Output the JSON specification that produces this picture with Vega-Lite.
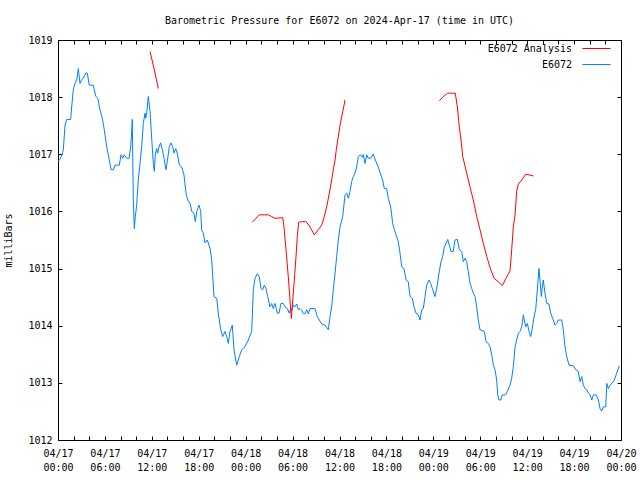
{
  "$schema": "https://vega.github.io/schema/vega-lite/v6.json",
  "autosize": "none",
  "width": 563,
  "height": 400,
  "padding": {"left": 58, "top": 40, "right": 19, "bottom": 40},
  "background": "white",
  "title": {"text": "Barometric Pressure for E6072 on 2024-Apr-17 (time in UTC)", "font": "DejaVu Sans Mono", "fontSize": 10, "fontWeight": "normal", "color": "black", "anchor": "middle", "offset": 9},
  "config": {
    "view": {"stroke": "black", "strokeWidth": 1},
    "axis": {"labelFont": "DejaVu Sans Mono", "labelFontSize": 10, "labelColor": "black", "titleFont": "DejaVu Sans Mono", "titleFontSize": 10, "titleFontWeight": "normal", "titleColor": "black", "grid": false, "domain": false, "tickColor": "black", "tickSize": 4, "tickWidth": 1, "offset": -4},
    "legend": {"labelFont": "DejaVu Sans Mono", "labelFontSize": 10, "labelColor": "black"}
  },
  "datasets": {
    "obs": [
      {"h":0.0,"p":1016.88},{"h":0.26,"p":1016.91},{"h":0.51,"p":1016.99},{"h":0.68,"p":1017.08},{"h":0.90,"p":1017.51},{"h":1.11,"p":1017.61},{"h":1.62,"p":1017.61},{"h":1.75,"p":1017.83},{"h":1.96,"p":1018.13},{"h":2.17,"p":1018.24},{"h":2.39,"p":1018.30},{"h":2.60,"p":1018.50},{"h":2.81,"p":1018.24},{"h":3.03,"p":1018.31},{"h":3.24,"p":1018.33},{"h":3.54,"p":1018.42},{"h":3.75,"p":1018.42},{"h":4.00,"p":1018.21},{"h":4.51,"p":1018.21},{"h":4.82,"p":1018.02},{"h":5.08,"p":1017.98},{"h":5.37,"p":1017.78},{"h":5.67,"p":1017.63},{"h":5.92,"p":1017.43},{"h":6.23,"p":1017.13},{"h":6.52,"p":1016.93},{"h":6.78,"p":1016.73},{"h":7.07,"p":1016.73},{"h":7.29,"p":1016.81},{"h":7.84,"p":1016.81},{"h":8.06,"p":1016.99},{"h":8.27,"p":1016.93},{"h":8.48,"p":1016.99},{"h":8.79,"p":1016.93},{"h":9.08,"p":1016.93},{"h":9.30,"p":1017.13},{"h":9.43,"p":1017.43},{"h":9.50,"p":1017.61},{"h":9.63,"p":1016.2},{"h":9.76,"p":1015.70},{"h":9.89,"p":1015.91},{"h":10.06,"p":1016.11},{"h":10.27,"p":1016.55},{"h":10.49,"p":1016.84},{"h":10.70,"p":1017.13},{"h":10.91,"p":1017.54},{"h":11.13,"p":1017.72},{"h":11.22,"p":1017.63},{"h":11.34,"p":1017.72},{"h":11.55,"p":1018.01},{"h":11.77,"p":1017.75},{"h":11.98,"p":1017.28},{"h":12.19,"p":1016.84},{"h":12.32,"p":1016.70},{"h":12.44,"p":1016.99},{"h":12.62,"p":1017.10},{"h":12.75,"p":1017.02},{"h":12.92,"p":1017.13},{"h":13.13,"p":1017.20},{"h":13.34,"p":1017.08},{"h":13.56,"p":1016.93},{"h":13.81,"p":1016.73},{"h":14.03,"p":1016.93},{"h":14.23,"p":1017.13},{"h":14.45,"p":1017.20},{"h":14.67,"p":1017.13},{"h":14.84,"p":1017.02},{"h":15.05,"p":1017.10},{"h":15.26,"p":1017.02},{"h":15.51,"p":1016.81},{"h":15.82,"p":1016.78},{"h":16.11,"p":1016.64},{"h":16.37,"p":1016.32},{"h":16.59,"p":1016.20},{"h":16.88,"p":1016.14},{"h":17.10,"p":1016.00},{"h":17.39,"p":1015.97},{"h":17.56,"p":1015.82},{"h":17.74,"p":1016.00},{"h":18.03,"p":1016.11},{"h":18.25,"p":1016.00},{"h":18.38,"p":1015.67},{"h":18.58,"p":1015.62},{"h":18.80,"p":1015.45},{"h":19.09,"p":1015.50},{"h":19.44,"p":1015.36},{"h":19.66,"p":1015.15},{"h":19.95,"p":1014.51},{"h":20.30,"p":1014.48},{"h":20.50,"p":1014.22},{"h":20.81,"p":1013.93},{"h":21.06,"p":1013.81},{"h":21.36,"p":1013.90},{"h":21.57,"p":1013.81},{"h":21.78,"p":1013.69},{"h":22.00,"p":1013.90},{"h":22.29,"p":1014.01},{"h":22.51,"p":1013.58},{"h":22.85,"p":1013.31},{"h":23.19,"p":1013.46},{"h":23.49,"p":1013.58},{"h":23.92,"p":1013.63},{"h":24.34,"p":1013.75},{"h":24.77,"p":1013.90},{"h":24.98,"p":1014.63},{"h":25.19,"p":1014.83},{"h":25.49,"p":1014.91},{"h":25.74,"p":1014.86},{"h":25.96,"p":1014.65},{"h":26.18,"p":1014.63},{"h":26.38,"p":1014.71},{"h":26.60,"p":1014.65},{"h":26.82,"p":1014.51},{"h":27.11,"p":1014.33},{"h":27.33,"p":1014.39},{"h":27.53,"p":1014.30},{"h":27.75,"p":1014.39},{"h":28.05,"p":1014.22},{"h":28.26,"p":1014.22},{"h":28.52,"p":1014.39},{"h":28.81,"p":1014.39},{"h":29.03,"p":1014.33},{"h":29.33,"p":1014.30},{"h":29.58,"p":1014.22},{"h":29.76,"p":1014.30},{"h":29.96,"p":1014.28},{"h":30.09,"p":1014.36},{"h":30.31,"p":1014.33},{"h":30.53,"p":1014.38},{"h":30.73,"p":1014.28},{"h":30.95,"p":1014.30},{"h":31.17,"p":1014.27},{"h":31.37,"p":1014.21},{"h":31.59,"p":1014.21},{"h":31.81,"p":1014.28},{"h":32.01,"p":1014.21},{"h":32.23,"p":1014.30},{"h":32.87,"p":1014.30},{"h":33.16,"p":1014.16},{"h":33.42,"p":1014.10},{"h":33.72,"p":1014.03},{"h":34.15,"p":1014.01},{"h":34.57,"p":1013.93},{"h":34.79,"p":1014.16},{"h":35.00,"p":1014.33},{"h":35.21,"p":1014.63},{"h":35.43,"p":1014.92},{"h":35.64,"p":1015.21},{"h":35.85,"p":1015.50},{"h":36.07,"p":1015.73},{"h":36.41,"p":1015.91},{"h":36.71,"p":1016.29},{"h":36.92,"p":1016.32},{"h":37.13,"p":1016.23},{"h":37.34,"p":1016.35},{"h":37.56,"p":1016.52},{"h":37.76,"p":1016.61},{"h":37.98,"p":1016.67},{"h":38.20,"p":1016.78},{"h":38.41,"p":1016.96},{"h":38.62,"p":1016.99},{"h":38.92,"p":1016.95},{"h":39.04,"p":1017.00},{"h":39.26,"p":1016.84},{"h":39.48,"p":1016.99},{"h":39.69,"p":1016.93},{"h":39.99,"p":1016.93},{"h":40.32,"p":1017.00},{"h":40.67,"p":1016.87},{"h":40.96,"p":1016.78},{"h":41.18,"p":1016.68},{"h":41.52,"p":1016.55},{"h":41.73,"p":1016.40},{"h":42.03,"p":1016.40},{"h":42.24,"p":1016.23},{"h":42.55,"p":1016.08},{"h":42.80,"p":1015.79},{"h":43.01,"p":1015.68},{"h":43.23,"p":1015.59},{"h":43.52,"p":1015.47},{"h":43.74,"p":1015.27},{"h":43.96,"p":1015.03},{"h":44.25,"p":1015.00},{"h":44.51,"p":1014.80},{"h":44.80,"p":1014.77},{"h":45.02,"p":1014.51},{"h":45.31,"p":1014.48},{"h":45.53,"p":1014.33},{"h":45.78,"p":1014.22},{"h":46.08,"p":1014.19},{"h":46.30,"p":1014.10},{"h":46.51,"p":1014.28},{"h":46.72,"p":1014.30},{"h":46.94,"p":1014.51},{"h":47.15,"p":1014.71},{"h":47.45,"p":1014.80},{"h":47.66,"p":1014.74},{"h":47.92,"p":1014.63},{"h":48.21,"p":1014.51},{"h":48.43,"p":1014.65},{"h":48.73,"p":1014.92},{"h":48.98,"p":1015.12},{"h":49.20,"p":1015.21},{"h":49.40,"p":1015.38},{"h":49.62,"p":1015.44},{"h":49.84,"p":1015.51},{"h":50.04,"p":1015.41},{"h":50.26,"p":1015.30},{"h":50.55,"p":1015.30},{"h":50.77,"p":1015.50},{"h":51.07,"p":1015.51},{"h":51.32,"p":1015.33},{"h":51.63,"p":1015.30},{"h":51.83,"p":1015.12},{"h":52.05,"p":1015.18},{"h":52.27,"p":1015.12},{"h":52.47,"p":1014.95},{"h":52.69,"p":1014.74},{"h":52.91,"p":1014.65},{"h":53.11,"p":1014.57},{"h":53.33,"p":1014.51},{"h":53.55,"p":1014.33},{"h":53.75,"p":1014.10},{"h":53.97,"p":1013.93},{"h":54.52,"p":1013.90},{"h":54.74,"p":1013.72},{"h":55.03,"p":1013.69},{"h":55.25,"p":1013.63},{"h":55.47,"p":1013.49},{"h":55.67,"p":1013.31},{"h":55.89,"p":1013.23},{"h":56.10,"p":1013.05},{"h":56.23,"p":1012.79},{"h":56.40,"p":1012.70},{"h":56.62,"p":1012.70},{"h":56.82,"p":1012.79},{"h":57.26,"p":1012.79},{"h":57.46,"p":1012.85},{"h":57.81,"p":1012.96},{"h":58.02,"p":1013.08},{"h":58.23,"p":1013.28},{"h":58.45,"p":1013.63},{"h":58.66,"p":1013.75},{"h":58.87,"p":1013.87},{"h":59.09,"p":1013.90},{"h":59.30,"p":1013.98},{"h":59.51,"p":1014.19},{"h":59.64,"p":1014.10},{"h":59.81,"p":1013.98},{"h":60.02,"p":1014.04},{"h":60.24,"p":1013.90},{"h":60.45,"p":1013.81},{"h":60.66,"p":1013.96},{"h":60.88,"p":1014.16},{"h":61.09,"p":1014.28},{"h":61.30,"p":1014.63},{"h":61.51,"p":1015.00},{"h":61.64,"p":1014.80},{"h":61.81,"p":1014.51},{"h":61.94,"p":1014.68},{"h":62.06,"p":1014.80},{"h":62.28,"p":1014.57},{"h":62.50,"p":1014.39},{"h":62.79,"p":1014.38},{"h":63.01,"p":1014.22},{"h":63.26,"p":1014.13},{"h":63.56,"p":1014.01},{"h":63.78,"p":1014.04},{"h":63.98,"p":1014.10},{"h":64.42,"p":1014.10},{"h":64.62,"p":1013.93},{"h":64.84,"p":1013.63},{"h":65.06,"p":1013.46},{"h":65.35,"p":1013.31},{"h":65.90,"p":1013.30},{"h":66.21,"p":1013.23},{"h":66.54,"p":1013.20},{"h":66.76,"p":1013.02},{"h":66.98,"p":1013.11},{"h":67.18,"p":1012.96},{"h":67.40,"p":1012.90},{"h":67.62,"p":1012.88},{"h":67.83,"p":1012.82},{"h":68.05,"p":1012.79},{"h":68.26,"p":1012.70},{"h":68.47,"p":1012.79},{"h":68.81,"p":1012.79},{"h":69.11,"p":1012.70},{"h":69.32,"p":1012.55},{"h":69.54,"p":1012.51},{"h":69.74,"p":1012.58},{"h":70.05,"p":1012.58},{"h":70.18,"p":1012.99},{"h":70.39,"p":1012.90},{"h":70.60,"p":1012.96},{"h":70.90,"p":1013.00},{"h":71.15,"p":1013.05},{"h":71.45,"p":1013.17},{"h":71.78,"p":1013.30}
    ],
    "ana": [
      {"h":11.77,"p":1018.80,"seg":1},{"h":12.28,"p":1018.50,"seg":1},{"h":12.83,"p":1018.15,"seg":1},
      {"h":24.85,"p":1015.81,"seg":2},{"h":25.74,"p":1015.94,"seg":2},{"h":26.90,"p":1015.94,"seg":2},{"h":27.33,"p":1015.91,"seg":2},{"h":27.75,"p":1015.88,"seg":2},{"h":28.74,"p":1015.89,"seg":2},{"h":28.90,"p":1015.73,"seg":2},{"h":29.16,"p":1015.33,"seg":2},{"h":29.45,"p":1014.86,"seg":2},{"h":29.67,"p":1014.45,"seg":2},{"h":29.84,"p":1014.13,"seg":2},{"h":30.02,"p":1014.45,"seg":2},{"h":30.22,"p":1014.80,"seg":2},{"h":30.44,"p":1015.21,"seg":2},{"h":30.60,"p":1015.56,"seg":2},{"h":30.78,"p":1015.81,"seg":2},{"h":31.17,"p":1015.82,"seg":2},{"h":31.72,"p":1015.82,"seg":2},{"h":32.14,"p":1015.75,"seg":2},{"h":32.78,"p":1015.59,"seg":2},{"h":33.29,"p":1015.68,"seg":2},{"h":33.72,"p":1015.76,"seg":2},{"h":34.06,"p":1015.91,"seg":2},{"h":34.36,"p":1016.08,"seg":2},{"h":34.70,"p":1016.32,"seg":2},{"h":35.00,"p":1016.55,"seg":2},{"h":35.21,"p":1016.73,"seg":2},{"h":35.43,"p":1016.90,"seg":2},{"h":35.59,"p":1017.08,"seg":2},{"h":36.07,"p":1017.51,"seg":2},{"h":36.71,"p":1017.95,"seg":2},
      {"h":48.76,"p":1017.94,"seg":3},{"h":49.28,"p":1018.01,"seg":3},{"h":49.84,"p":1018.07,"seg":3},{"h":50.81,"p":1018.07,"seg":3},{"h":51.07,"p":1017.83,"seg":3},{"h":51.32,"p":1017.48,"seg":3},{"h":51.54,"p":1017.25,"seg":3},{"h":51.76,"p":1016.96,"seg":3},{"h":52.27,"p":1016.67,"seg":3},{"h":52.69,"p":1016.43,"seg":3},{"h":53.11,"p":1016.20,"seg":3},{"h":53.55,"p":1015.91,"seg":3},{"h":53.97,"p":1015.68,"seg":3},{"h":54.39,"p":1015.44,"seg":3},{"h":54.83,"p":1015.21,"seg":3},{"h":55.34,"p":1014.98,"seg":3},{"h":55.76,"p":1014.83,"seg":3},{"h":56.31,"p":1014.77,"seg":3},{"h":56.82,"p":1014.70,"seg":3},{"h":57.29,"p":1014.83,"seg":3},{"h":57.81,"p":1014.96,"seg":3},{"h":58.02,"p":1015.33,"seg":3},{"h":58.23,"p":1015.73,"seg":3},{"h":58.45,"p":1015.94,"seg":3},{"h":58.66,"p":1016.35,"seg":3},{"h":58.87,"p":1016.48,"seg":3},{"h":59.30,"p":1016.55,"seg":3},{"h":59.81,"p":1016.65,"seg":3},{"h":60.24,"p":1016.64,"seg":3},{"h":60.80,"p":1016.62,"seg":3}
    ]
  },
  "layer": [
    {
      "data": {"name": "obs"},
      "mark": {"type": "line", "strokeWidth": 1, "interpolate": "linear"},
      "encoding": {
        "x": {"field": "h", "type": "quantitative", "scale": {"domain": [0, 72], "nice": false, "zero": false},
              "axis": {"orient": "bottom", "title": null, "values": [0,2,4,6,8,10,12,14,16,18,20,22,24,26,28,30,32,34,36,38,40,42,44,46,48,50,52,54,56,58,60,62,64,66,68,70,72],
                       "labelExpr": "datum.value % 6 == 0 ? ['04/' + (17 + floor(datum.value / 24)), (datum.value % 24 < 10 ? '0' : '') + (datum.value % 24) + ':00'] : ''",
                       "labelLineHeight": 14, "labelPadding": 8, "labelFlush": false, "labelOverlap": false, "labelBaseline": "top"}},
        "y": {"field": "p", "type": "quantitative", "scale": {"domain": [1012, 1019], "nice": false, "zero": false},
              "axis": {"orient": "left", "title": "milliBars", "format": "d", "values": [1012,1013,1014,1015,1016,1017,1018,1019], "labelPadding": 6, "titlePadding": 14, "labelFlush": false}},
        "color": {"datum": "E6072", "type": "nominal", "scale": {"domain": ["E6072 Analysis", "E6072"], "range": ["#ff0000", "#0080ff"]},
                  "legend": {"title": null, "orient": "none", "legendX": 530, "legendY": 0, "symbolType": "M-1.75,0H1.75", "symbolSize": 256, "symbolStrokeWidth": 1, "labelAlign": "right", "labelOffset": -33, "rowPadding": 2}}
      }
    },
    {
      "data": {"name": "ana"},
      "mark": {"type": "line", "strokeWidth": 1, "interpolate": "linear"},
      "encoding": {
        "x": {"field": "h", "type": "quantitative", "axis": {"orient": "top", "title": null, "labels": false, "values": [0,2,4,6,8,10,12,14,16,18,20,22,24,26,28,30,32,34,36,38,40,42,44,46,48,50,52,54,56,58,60,62,64,66,68,70,72]}},
        "y": {"field": "p", "type": "quantitative", "axis": {"orient": "right", "title": null, "labels": false, "values": [1012,1013,1014,1015,1016,1017,1018,1019]}},
        "detail": {"field": "seg", "type": "nominal"},
        "color": {"datum": "E6072 Analysis", "type": "nominal"}
      }
    }
  ],
  "resolve": {"axis": {"x": "independent", "y": "independent"}}
}
